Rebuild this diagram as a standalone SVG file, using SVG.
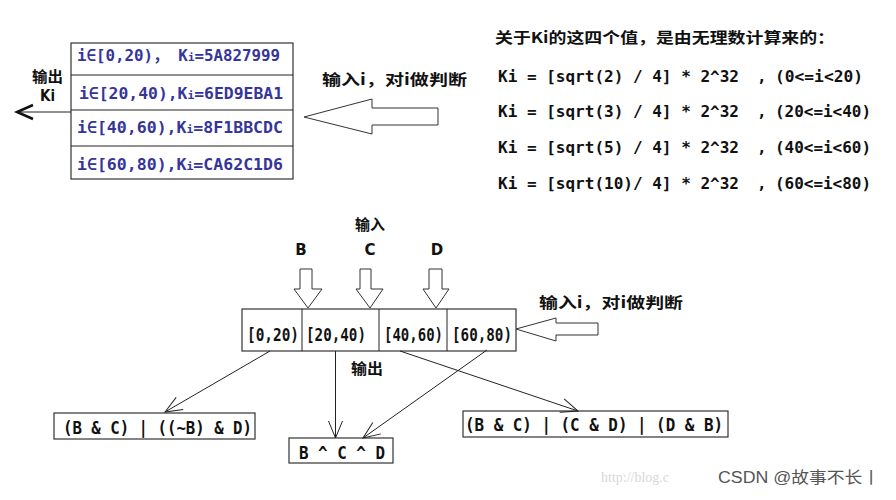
<svg xmlns="http://www.w3.org/2000/svg" width="896" height="500" viewBox="0 0 896 500">
<style>
.box{fill:#fff;stroke:#333;stroke-width:1.2}
.hol{fill:#fff;stroke:#333;stroke-width:1}
.cn{font-family:"Noto Sans CJK SC","DejaVu Sans",sans-serif;font-weight:bold;font-size:15px;fill:#111}
.mono{font-family:"DejaVu Sans Mono","Liberation Mono","Noto Sans CJK SC",monospace;font-weight:bold;font-size:16px;fill:#111}
.big{font-size:17px}
.mid{font-size:17px}
.blue{font-family:"DejaVu Sans Mono","Liberation Mono","Noto Sans CJK SC",monospace;font-weight:bold;font-size:16px;fill:#35359a}
.lbl{font-family:"DejaVu Sans","Noto Sans CJK SC",sans-serif;font-weight:bold;font-size:15px;fill:#111}
.conn{stroke:#222;stroke-width:1;fill:none}
</style>
<defs>
<marker id="v" markerUnits="userSpaceOnUse" markerWidth="24" markerHeight="24" viewBox="-20 -12 24 24" refX="0" refY="0" orient="auto" overflow="visible">
<path d="M-17,-7 L0,0 L-17,7" fill="none" stroke="#222" stroke-width="1"/>
</marker>
<marker id="vk" markerUnits="userSpaceOnUse" markerWidth="24" markerHeight="24" viewBox="-20 -12 24 24" refX="0" refY="0" orient="auto" overflow="visible">
<path d="M-16,-7 L0,0 L-16,7" fill="none" stroke="#111" stroke-width="2.5"/>
</marker>
</defs>
<rect width="896" height="500" fill="#fff"/>

<g id="ktable">
<rect class="box" x="71" y="43" width="222" height="136"/>
<line class="conn" x1="71" y1="75" x2="293" y2="75"/>
<line class="conn" x1="71" y1="110" x2="293" y2="110"/>
<line class="conn" x1="71" y1="146" x2="293" y2="146"/>
<text class="blue" x="77" y="61" textLength="203" lengthAdjust="spacingAndGlyphs">i∈[0,20)， K<tspan font-size="11">i</tspan>=5A827999</text>
<text class="blue" x="79" y="99" textLength="204" lengthAdjust="spacingAndGlyphs">i∈[20,40),K<tspan font-size="11">i</tspan>=6ED9EBA1</text>
<text class="blue" x="77" y="133" textLength="206" lengthAdjust="spacingAndGlyphs">i∈[40,60),K<tspan font-size="11">i</tspan>=8F1BBCDC</text>
<text class="blue" x="77" y="170" textLength="206" lengthAdjust="spacingAndGlyphs">i∈[60,80),K<tspan font-size="11">i</tspan>=CA62C1D6</text>
</g>

<g id="out-ki">
<text class="cn" x="32" y="82" textLength="31" lengthAdjust="spacingAndGlyphs">输出</text>
<text class="lbl" x="40" y="101" textLength="15" lengthAdjust="spacingAndGlyphs">Ki</text>
</g>

<g id="in-top">
<polygon class="hol" points="304,117 372,99 372,108 438,108 438,125 372,125 372,134"/>
<text class="cn" x="322" y="85" textLength="145" lengthAdjust="spacingAndGlyphs">输入i，对i做判断</text>
</g>

<g id="formulas">
<text class="cn" x="495" y="43" textLength="340" lengthAdjust="spacingAndGlyphs">关于Ki的这四个值，是由无理数计算来的：</text>
<text class="mono" x="498" y="82" textLength="241" lengthAdjust="spacingAndGlyphs">Ki = [sqrt(2) / 4] * 2^32</text>
<text class="mono" x="757" y="82">,</text>
<text class="mono" x="775" y="82" textLength="88" lengthAdjust="spacingAndGlyphs">(0&lt;=i&lt;20)</text>
<text class="mono" x="498" y="117" textLength="241" lengthAdjust="spacingAndGlyphs">Ki = [sqrt(3) / 4] * 2^32</text>
<text class="mono" x="757" y="117">,</text>
<text class="mono" x="775" y="117" textLength="96" lengthAdjust="spacingAndGlyphs">(20&lt;=i&lt;40)</text>
<text class="mono" x="498" y="153" textLength="241" lengthAdjust="spacingAndGlyphs">Ki = [sqrt(5) / 4] * 2^32</text>
<text class="mono" x="757" y="153">,</text>
<text class="mono" x="775" y="153" textLength="96" lengthAdjust="spacingAndGlyphs">(40&lt;=i&lt;60)</text>
<text class="mono" x="498" y="189" textLength="241" lengthAdjust="spacingAndGlyphs">Ki = [sqrt(10)/ 4] * 2^32</text>
<text class="mono" x="757" y="189">,</text>
<text class="mono" x="775" y="189" textLength="96" lengthAdjust="spacingAndGlyphs">(60&lt;=i&lt;80)</text>
</g>

<g id="inputs">
<text class="cn" x="370" y="230" font-size="14" text-anchor="middle">输入</text>
<text class="lbl" x="301" y="255" text-anchor="middle">B</text>
<text class="lbl" x="370" y="255" text-anchor="middle">C</text>
<text class="lbl" x="437" y="255" text-anchor="middle">D</text>
<polygon class="hol" points="300,269 312,269 312,289 322,289 308,308 294,289 300,289"/>
<polygon class="hol" points="360,269 371,269 371,289 383,289 370,308 356,289 360,289"/>
<polygon class="hol" points="429,269 442,269 442,289 449,289 436,308 423,289 429,289"/>
</g>

<g id="ranges">
<rect class="box" x="242" y="309" width="274" height="42"/>
<line class="conn" x1="302" y1="309" x2="302" y2="351"/>
<line class="conn" x1="379" y1="309" x2="379" y2="351"/>
<line class="conn" x1="447" y1="309" x2="447" y2="351"/>
<text class="mono big" x="247" y="341" textLength="52" lengthAdjust="spacingAndGlyphs">[0,20)</text>
<text class="mono big" x="306" y="341" textLength="60" lengthAdjust="spacingAndGlyphs">[20,40)</text>
<text class="mono big" x="384" y="341" textLength="59" lengthAdjust="spacingAndGlyphs">[40,60)</text>
<text class="mono big" x="452" y="341" textLength="60" lengthAdjust="spacingAndGlyphs">[60,80)</text>
</g>

<g id="in-bottom">
<polygon class="hol" points="516,329 556,318 556,323 598,323 598,335 556,335 556,341"/>
<text class="cn" x="539" y="308" textLength="144" lengthAdjust="spacingAndGlyphs">输入i，对i做判断</text>
</g>

<g id="f-box">
<rect class="box" x="54" y="413" width="201" height="26"/>
<text class="mono mid" x="63" y="434" textLength="189" lengthAdjust="spacingAndGlyphs">(B &amp; C) | ((~B) &amp; D)</text>
</g>

<g id="h-box">
<rect class="box" x="289" y="438" width="104" height="25"/>
<text class="mono mid" x="299" y="459" textLength="86" lengthAdjust="spacingAndGlyphs">B ^ C ^ D</text>
</g>

<g id="g-box">
<rect class="box" x="463" y="411" width="265" height="26"/>
<text class="mono mid" x="465" y="431" textLength="258" lengthAdjust="spacingAndGlyphs">(B &amp; C) | (C &amp; D) | (D &amp; B)</text>
</g>

<g id="out-label">
<text class="cn" x="351" y="374" textLength="32" lengthAdjust="spacingAndGlyphs">输出</text>
</g>

<g id="connectors">
<line class="conn" x1="71" y1="112" x2="17" y2="112" stroke-width="2.5" stroke="#111" marker-end="url(#vk)"/>
<line class="conn" x1="270" y1="351" x2="165" y2="412" marker-end="url(#v)"/>
<line class="conn" x1="335.5" y1="351" x2="335.5" y2="438" marker-end="url(#v)"/>
<line class="conn" x1="487" y1="350" x2="363" y2="438" marker-end="url(#v)"/>
<line class="conn" x1="400" y1="351" x2="578" y2="411" marker-end="url(#v)"/>
</g>

<g id="watermark">
<text x="601" y="482" font-family="Liberation Serif, serif" font-size="14" fill="#d8d8d8">http://blog.c</text>
<text x="718" y="483" font-family="Liberation Sans,'Noto Sans CJK SC',sans-serif" font-size="16" fill="#555" textLength="162" lengthAdjust="spacingAndGlyphs">CSDN @故事不长丨</text>
</g>
</svg>
